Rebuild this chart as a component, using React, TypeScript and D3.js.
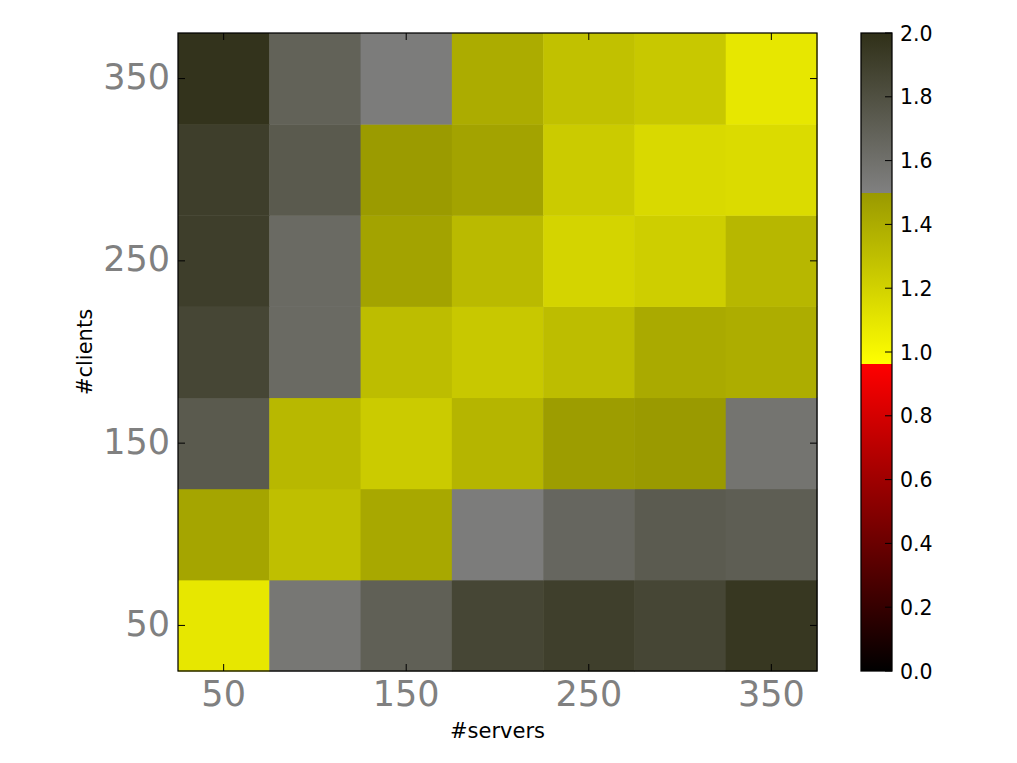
import React from "react";
import * as d3 from "d3";

// ---- data ----
const servers = [50, 100, 150, 200, 250, 300, 350];
const clients = [50, 100, 150, 200, 250, 300, 350];
const xTickLabels = [50, 150, 250, 350];
const yTickLabels = [50, 150, 250, 350];
const cbTicks = [0.0, 0.2, 0.4, 0.6, 0.8, 1.0, 1.2, 1.4, 1.6, 1.8, 2.0];

// values per #clients row, ordered by #servers
const row50 = [1.09, 1.556, 1.7, 1.86, 1.905, 1.86, 1.955];
const row100 = [1.436, 1.3, 1.42, 1.525, 1.66, 1.73, 1.71];
const row150 = [1.74, 1.336, 1.235, 1.35, 1.479, 1.495, 1.575];
const row200 = [1.86, 1.64, 1.31, 1.25, 1.31, 1.41, 1.394];
const row250 = [1.91, 1.64, 1.447, 1.325, 1.188, 1.22, 1.34];
const row300 = [1.91, 1.74, 1.49, 1.447, 1.235, 1.16, 1.15];
const row350 = [1.98, 1.69, 1.525, 1.4, 1.29, 1.25, 1.09];
const rows = [row50, row100, row150, row200, row250, row300, row350];

// ---- colormap ----
const RED_END = 0.962;
const redScale = d3.scaleLinear<string>().domain([0, RED_END]).range(["#000000", "#ff0000"]).clamp(true);
const yellowScale = d3.scaleLinear<string>().domain([RED_END, 1.5]).range(["#ffff00", "#999900"]).clamp(true);
const grayScale = d3.scaleLinear<string>().domain([1.5, 2.0]).range(["#808080", "#303018"]).clamp(true);
function cmap(v: number): string {
  if (v < RED_END) return redScale(v);
  if (v < 1.5) return yellowScale(v);
  return grayScale(v);
}

export default function App() {
  const W = 1017, H = 763;
  const left = 178, right = 817, top = 33, bottom = 671;
  const cbL = 861, cbR = 892;

  const x = d3.scaleBand<number>().domain(servers).range([left, right]).padding(0);
  const y = d3.scaleBand<number>().domain(clients).range([bottom, top]).padding(0);
  const cy = d3.scaleLinear().domain([0, 2]).range([bottom, top]);

  const cells: { s: number; c: number; v: number }[] = [];
  rows.forEach((r, i) => r.forEach((v, j) => cells.push({ s: servers[j], c: clients[i], v })));

  // gradient stops for the colorbar
  const stops: { o: number; c: string }[] = [];
  const addSeg = (a: number, b: number, n: number) => {
    for (let k = 0; k <= n; k++) {
      const v = a + ((b - a) * k) / n;
      const vv = k === n ? b - 1e-6 : v;
      stops.push({ o: v / 2, c: cmap(vv) });
    }
  };
  addSeg(0, RED_END, 8);
  addSeg(RED_END, 1.5, 8);
  addSeg(1.5, 2.0, 8);

  const tickLen = 7;
  const font = "DejaVu Sans, Bitstream Vera Sans, sans-serif";

  return (
    <svg width={W} height={H} style={{ display: "block", position: "absolute", left: 0, top: 0 }}>
      <defs>
        <linearGradient id="cb" x1="0" y1="1" x2="0" y2="0">
          {stops.map((s, i) => (
            <stop key={i} offset={s.o} stopColor={s.c} />
          ))}
        </linearGradient>
      </defs>
      <rect x={0} y={0} width={W} height={H} fill="#fff" />
      {cells.map((d, i) => (
        <rect
          key={i}
          x={x(d.s)!}
          y={y(d.c)!}
          width={x.bandwidth() + 0.5}
          height={y.bandwidth() + 0.5}
          fill={cmap(d.v)}
        />
      ))}
      {/* ticks */}
      {xTickLabels.map((t) => {
        const px = x(t)! + x.bandwidth() / 2;
        return (
          <g key={"x" + t}>
            <line x1={px} x2={px} y1={bottom} y2={bottom - tickLen} stroke="#000" strokeWidth={1} />
            <line x1={px} x2={px} y1={top} y2={top + tickLen} stroke="#000" strokeWidth={1} />
            <text x={px} y={706} textAnchor="middle" fontSize={35} fill="#808080" fontFamily={font}>
              {t}
            </text>
          </g>
        );
      })}
      {yTickLabels.map((t) => {
        const py = y(t)! + y.bandwidth() / 2;
        return (
          <g key={"y" + t}>
            <line x1={left} x2={left + tickLen} y1={py} y2={py} stroke="#000" strokeWidth={1} />
            <line x1={right} x2={right - tickLen} y1={py} y2={py} stroke="#000" strokeWidth={1} />
            <text x={170} y={py + 10.5} textAnchor="end" fontSize={35} fill="#808080" fontFamily={font}>
              {t}
            </text>
          </g>
        );
      })}
      <rect x={left} y={top} width={right - left} height={bottom - top} fill="none" stroke="#000" strokeWidth={1.25} />
      <text x={(left + right) / 2} y={738} textAnchor="middle" fontSize={21} fill="#000" fontFamily={font}>
        #servers
      </text>
      <text
        transform={`translate(92,${(top + bottom) / 2}) rotate(-90)`}
        textAnchor="middle"
        fontSize={21}
        fill="#000"
        fontFamily={font}
      >
        #clients
      </text>
      {/* colorbar */}
      <rect x={cbL} y={top} width={cbR - cbL} height={bottom - top} fill="url(#cb)" />
      {cbTicks.map((t) => {
        const py = cy(t);
        return (
          <g key={"c" + t}>
            <line x1={cbR} x2={cbR - tickLen} y1={py} y2={py} stroke="#000" strokeWidth={1} />
            <text x={900} y={py + 7.5} fontSize={20.5} fill="#000" fontFamily={font}>
              {t.toFixed(1)}
            </text>
          </g>
        );
      })}
      <rect x={cbL} y={top} width={cbR - cbL} height={bottom - top} fill="none" stroke="#000" strokeWidth={1.25} />
    </svg>
  );
}
